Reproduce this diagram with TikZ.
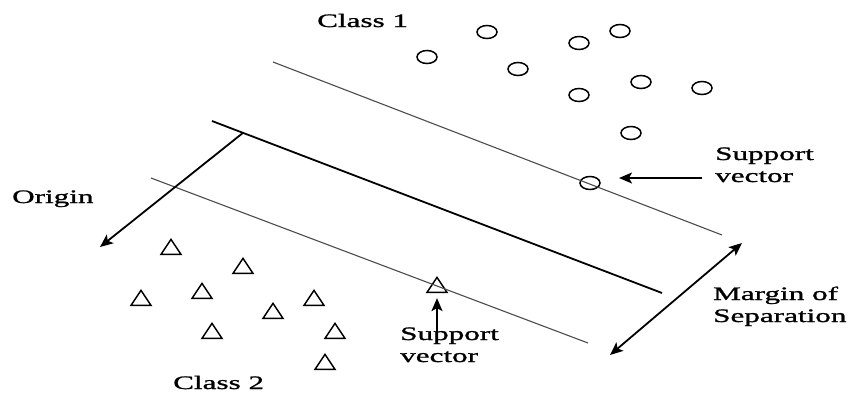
\documentclass[tikz,border=0pt]{standalone}
\usepackage{fontspec}
\setmainfont{Liberation Serif}[FakeStretch=1.64,FakeBold=1.2]
\usetikzlibrary{shapes.geometric,arrows.meta,calc}
\begin{document}
\begin{tikzpicture}[x=1pt,y=-1pt,
  pone/.style={draw, ellipse, minimum width=20pt, minimum height=13pt, inner sep=0pt, line width=1.5pt},
  ptwo/.style={draw, isosceles triangle, shape border rotate=90, isosceles triangle stretches,
               minimum width=20pt, minimum height=15pt, inner sep=0pt, line width=1.5pt},
  marginline/.style={draw=black!70, line width=1.1pt},
  hyperline/.style={draw=black, line width=1.8pt},
  tip/.style={Stealth[length=13pt,width=11pt,inset=3pt]},
  arr/.style={line width=1.8pt, -{Stealth[length=13pt,width=11pt,inset=3pt]}},
  darr/.style={line width=1.8pt, {Stealth[length=13pt,width=11pt,inset=3pt]}-{Stealth[length=13pt,width=11pt,inset=3pt]}},
  lbl/.style={font=\fontsize{19}{22}\selectfont, inner sep=0pt, align=left}]
\useasboundingbox (0,0) rectangle (855,392);

% class 1 samples
\node[pone] (c1) at (487,32) {};
\node[pone] (c2) at (620,31) {};
\node[pone] (c3) at (579,43) {};
\node[pone] (c4) at (427,57) {};
\node[pone] (c5) at (518,69) {};
\node[pone] (c6) at (641,82) {};
\node[pone] (c7) at (702,88) {};
\node[pone] (c8) at (579,95) {};
\node[pone] (c9) at (631,133) {};
\node[pone] (c10) at (590,183) {};

% class 2 samples
\node[ptwo] (t1) at (171,249) {};
\node[ptwo] (t2) at (243,268) {};
\node[ptwo] (t3) at (141,300) {};
\node[ptwo] (t4) at (202,293) {};
\node[ptwo] (t5) at (314,300) {};
\node[ptwo] (t6) at (273,313) {};
\node[ptwo] (t7) at (212,333) {};
\node[ptwo] (t8) at (335,333) {};
\node[ptwo] (t9) at (325,364) {};
\node[ptwo] (t10) at (437,287) {};

% separating hyperplane and margins
\coordinate (u1) at (273,62);  \coordinate (u2) at (722,235);
\coordinate (h1) at (212,121); \coordinate (h2) at (662,293);
\coordinate (l1) at (151,178); \coordinate (l2) at (588,343);
\draw[marginline] (u1) -- (u2);
\draw[hyperline] (h1) -- (h2);
\draw[marginline] (l1) -- (l2);

% normal towards the origin
\coordinate (o1) at ($(h1)!0.0689!(h2)$);
\coordinate (o2) at (100,247);
\draw[arr] (o1) -- (o2);

% support vector pointers
\coordinate (s1) at (702,178);
\coordinate (s1e) at (619,178);
\draw[arr] (s1) -- (s1e);
\coordinate (s2) at (437,343);
\draw[arr] (s2) -- ([yshift=-5pt]t10.south);

% margin width
\coordinate (m1) at (610,355); \coordinate (m2) at (742,243);
\draw[darr] (m1) -- (m2);

% labels
\node[lbl, anchor=base west] (lc1) at (317,27) {Class 1};
\node[lbl, anchor=base west] (lc2) at (173,389) {Class 2};
\node[lbl, anchor=base west] (lor) at (12,203) {Origin};
\node[lbl, anchor=base west] (lsv1) at (715,182) {Support\\vector};
\node[lbl, anchor=base west] (lsv2) at (400,362) {Support\\vector};
\node[lbl, anchor=base west] (lms) at (713,322) {Margin of\\Separation};
\end{tikzpicture}
\end{document}
